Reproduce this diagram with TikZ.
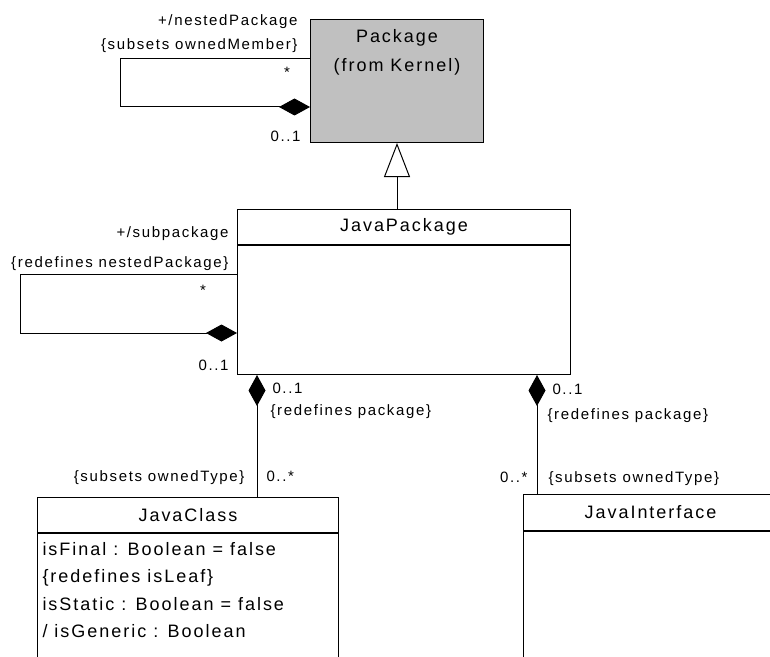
\documentclass[tikz,border=0pt]{standalone}
\usepackage{fontspec}
\setmainfont{Liberation Sans}[LetterSpace=11]
\usepackage{tikz}
\usetikzlibrary{arrows.meta, positioning, calc}
\definecolor{pkggray}{RGB}{192, 192, 192}

\begin{document}
\begin{tikzpicture}[
    x=0.75pt, y=-0.75pt,
    line width=0.75pt,
    classhead/.style={rectangle, draw, fill=white, inner sep=0pt, anchor=north west, font=\fontsize{13.5}{16}\selectfont},
    classbody/.style={rectangle, draw, fill=white, inner sep=0pt, anchor=north},
    pkgbox/.style={rectangle, draw, fill=pkggray, inner sep=0pt, anchor=north west},
    lbl/.style={inner sep=0pt, font=\fontsize{11.25}{13.5}\selectfont},
    comp/.style={-{Diamond[length=23.25pt, width=12.75pt]}},
    compsrc/.style={{Diamond[length=23.25pt, width=12.75pt]}-},
    gen/.style={-{Triangle[open, fill=white, length=25.5pt, width=19.5pt]}}
]
\useasboundingbox (0,0) rectangle (770,656);
\clip (0,0) rectangle (770,656);

% classes
\node[pkgbox, minimum width=173*0.75pt, minimum height=123*0.75pt] (pkg) at (310,19) {};
\node[inner sep=0pt, align=center, anchor=north, font=\fontsize{13.5}{21.75}\selectfont] (pkgname) at ($(pkg.north)+(0,10)$) {Package\\(from Kernel)};

\node[classhead, minimum width=333*0.75pt, minimum height=35*0.75pt] (jphead) at (237,209) {JavaPackage};
\node[classbody, minimum width=333*0.75pt, minimum height=129*0.75pt] (jpbody) at (jphead.south) {};

\node[classhead, minimum width=301*0.75pt, minimum height=35*0.75pt] (jchead) at (37,497) {JavaClass};
\node[classbody, minimum width=301*0.75pt, minimum height=200*0.75pt] (jcbody) at (jchead.south) {};
\node[inner sep=0pt, align=left, anchor=north west, font=\fontsize{13.5}{20.5}\selectfont] (jcattrs) at (42,542)
    {isFinal : Boolean = false\\\{redefines isLeaf\}\\isStatic : Boolean = false\\/ isGeneric : Boolean};

\node[classhead, minimum width=254*0.75pt, minimum height=36*0.75pt] (jihead) at (523,494) {JavaInterface};
\node[classbody, minimum width=254*0.75pt, minimum height=200*0.75pt] (jibody) at (jihead.south) {};

% generalization
\draw[gen] (jphead.north -| pkg.south) -- (pkg.south);

% self compositions
\coordinate (pkgla) at ($(pkg.north west)+(0,40)$);
\coordinate (pkglb) at ($(pkg.north west)+(0,88)$);
\draw[comp] (pkgla) -- ++(-190,0) |- (pkglb);

\coordinate (jpla) at ($(jphead.north west)+(0,65)$);
\coordinate (jplb) at ($(jphead.north west)+(0,124)$);
\draw[comp] (jpla) -- ++(-217,0) |- (jplb);

% owned types
\coordinate (lc) at ($(jpbody.south west)+(20,0)$);
\coordinate (rc) at ($(jpbody.south east)+(-34,0)$);
\draw[compsrc] (lc) -- (lc |- jchead.north);
\draw[compsrc] (rc) -- (rc |- jihead.north);

% association ends
\node[lbl, anchor=base east] (nestname) at (298,26) {+/nestedPackage};
\node[lbl, anchor=base east] (nestsub) at (298,50) {\{subsets ownedMember\}};
\node[lbl] (nestmany) at (287,72) {*};
\node[lbl, anchor=base east] (nestone) at (301,142) {0..1};

\node[lbl, anchor=base east] (subname) at (229,237) {+/subpackage};
\node[lbl, anchor=base east] (subredef) at (229,267) {\{redefines nestedPackage\}};
\node[lbl] (submany) at (203,290) {*};
\node[lbl, anchor=base east] (subone) at (229,370) {0..1};

\node[lbl, anchor=base west] (clsone) at (272,393) {0..1};
\node[lbl, anchor=base west] (clsredef) at (270,415) {\{redefines package\}};
\node[lbl, anchor=base east] (clssub) at (245,481) {\{subsets ownedType\}};
\node[lbl, anchor=base west] (clsmany) at (266,481) {0..*};

\node[lbl, anchor=base west] (ifcone) at (552,394) {0..1};
\node[lbl, anchor=base west] (ifcredef) at (547,419) {\{redefines package\}};
\node[lbl, anchor=base east] (ifcmany) at (528,482) {0..*};
\node[lbl, anchor=base west] (ifcsub) at (548,482) {\{subsets ownedType\}};

\end{tikzpicture}
\end{document}
